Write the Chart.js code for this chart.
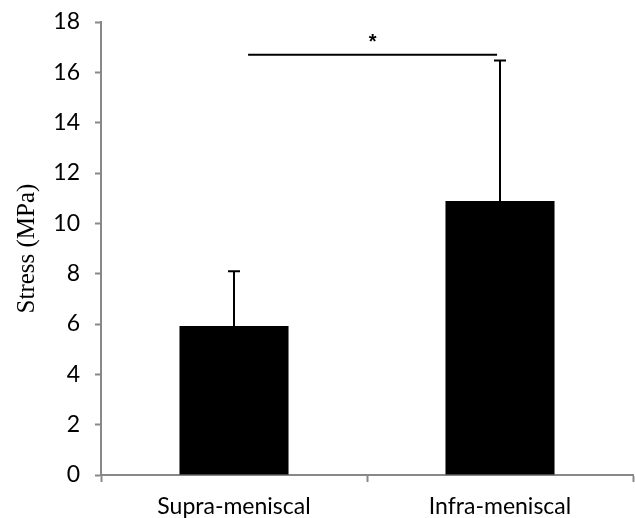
<!DOCTYPE html>
<html>
<head>
<meta charset="utf-8">
<script src="https://cdn.jsdelivr.net/npm/chart.js@4"></script>
<style>
  html, body { margin: 0; padding: 0; background: #fff; }
  #wrap { width: 635px; height: 518px; }
</style>
</head>
<body>
<div id="wrap"><canvas id="c" width="635" height="518"></canvas></div>
<script>
const CATEGORIES = ["Supra-meniscal", "Infra-meniscal"];
const STRESS = [5.92, 10.89];
const STRESS_SD = [2.18, 5.58];
const SIG_LEVEL = 16.7;   // height of the significance bracket
const SIG_LABEL = "*";

// error bars (upper half only) + significance line
const extras = {
    id: 'extras',
    afterDatasetsDraw(chart) {
        const ctx = chart.ctx, x = chart.scales.x, y = chart.scales.y;
        ctx.save();
        ctx.strokeStyle = '#000';
        ctx.lineWidth = 2;
        STRESS.forEach((v, i) => {
            const px = x.getPixelForValue(i);
            const top = y.getPixelForValue(v + STRESS_SD[i]);
            ctx.beginPath();
            ctx.moveTo(px, y.getPixelForValue(v));
            ctx.lineTo(px, top);
            ctx.moveTo(px - 6, top);
            ctx.lineTo(px + 6, top);
            ctx.stroke();
        });
        const step = x.getPixelForValue(1) - x.getPixelForValue(0);
        const x1 = x.getPixelForValue(0) + step * 0.053, x2 = x.getPixelForValue(0) + step * 0.989;
        const ly = y.getPixelForValue(SIG_LEVEL);
        ctx.beginPath();
        ctx.moveTo(x1, ly); ctx.lineTo(x2, ly);
        ctx.stroke();
        ctx.fillStyle = '#000';
        ctx.font = 'bold 20px "Liberation Sans"';
        ctx.textAlign = 'center';
        ctx.textBaseline = 'middle';
        ctx.fillText(SIG_LABEL, (x1 + x2) / 2, ly - 12);
        ctx.restore();
    }
};

new Chart(document.getElementById('c'), {
    type: 'bar',
    data: {
        labels: CATEGORIES,
        datasets: [{ data: STRESS, backgroundColor: '#000', borderWidth: 0, barPercentage: 0.41, categoryPercentage: 1 }]
    },
    options: {
        responsive: false,
        animation: false,
        layout: { padding: { top: 22, right: 2, left: 0, bottom: 0 } },
        plugins: { legend: { display: false }, tooltip: { enabled: false } },
        scales: {
            x: {
                grid: { display: true, drawOnChartArea: false, offset: true, tickLength: 7, tickColor: '#888', tickWidth: 2 },
                border: { color: '#888', width: 2 },
                ticks: { color: '#000', font: { family: 'Lato', size: 23 }, padding: 11 },
                afterFit(s) { s.height = 43; }
            },
            y: {
                min: 0, max: 18,
                grid: { display: true, drawOnChartArea: false, tickLength: 6, tickColor: '#888', tickWidth: 2 },
                border: { color: '#888', width: 2 },
                ticks: { stepSize: 2, color: '#000', font: { family: 'Lato', size: 23 }, padding: 15 },
                title: { display: true, text: 'Stress (MPa)', color: '#000', font: { family: 'Liberation Serif', size: 25 }, padding: { top: 12, bottom: 8 } },
                afterFit(s) { s.width = 101; s.paddingTop = 0; s.paddingBottom = 0; }
            }
        }
    },
    plugins: [extras]
});
</script>
</body>
</html>
